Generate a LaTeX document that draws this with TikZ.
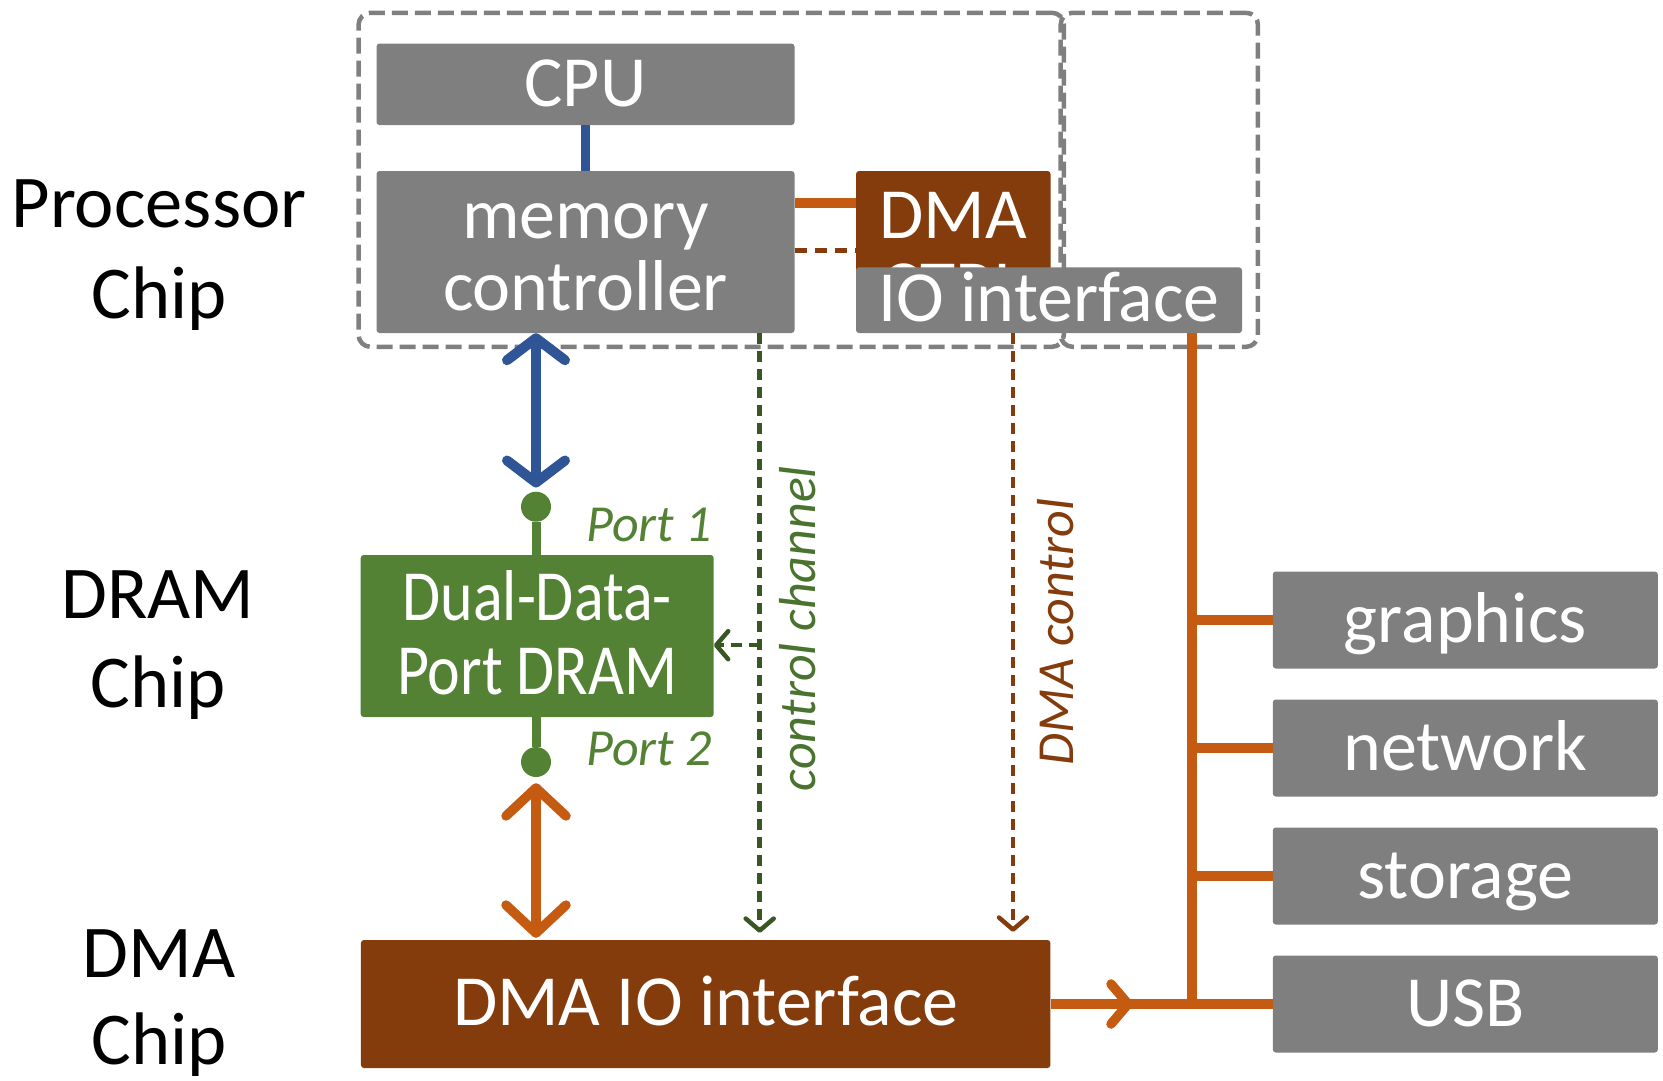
\documentclass[tikz,border=0pt]{standalone}
\usepackage{fontspec}
\setmainfont{Carlito}
\newfontfamily\narrowfont[FakeStretch=0.86]{Carlito}
\usetikzlibrary{arrows.meta,calc,decorations.markings}

\definecolor{boxgray}{HTML}{7F7F7F}
\definecolor{dmabrown}{HTML}{843C0C}
\definecolor{busorange}{HTML}{C55A11}
\definecolor{membus}{HTML}{2F5597}
\definecolor{dramgreen}{HTML}{548235}
\definecolor{ctrlgreen}{HTML}{385723}
\definecolor{ctrltext}{HTML}{4A7330}

\begin{document}
\begin{tikzpicture}[x=1pt,y=-1pt,
  sized/.style 2 args={minimum width=#1pt, minimum height=#2pt},
  block/.style={draw=none, rounded corners=3pt, inner sep=0pt},
  graybox/.style={block, fill=boxgray},
  brownbox/.style={block, fill=dmabrown},
  greenbox/.style={block, fill=dramgreen},
  chipframe/.style={draw=boxgray, line width=4.5pt, dash pattern=on 16pt off 7pt,
    rounded corners=12pt, inner sep=0pt},
  boxtext/.style={text=white, inner sep=0pt, anchor=base,
    font=\fontsize{72}{72}\selectfont},
  chiplabel/.style={inner sep=0pt, anchor=base, font=\fontsize{74.5}{74.5}\selectfont},
  portdot/.style={circle, fill=dramgreen, minimum size=30pt, inner sep=0pt},
  portlabel/.style={anchor=base west, inner sep=0pt, text=dramgreen,
    font=\itshape\fontsize{52}{52}\selectfont},
  ctrllabel/.style={rotate=90, anchor=base, inner sep=0pt,
    font=\itshape\fontsize{52}{52}\selectfont},
  membusline/.style={draw=membus, line width=10pt},
  orangebus/.style={draw=busorange, line width=9.5pt},
  browndash/.style={draw=dmabrown, line width=5pt, dash pattern=on 12pt off 8pt},
  ctrldash/.style={draw=ctrlgreen, line width=4.5pt, dash pattern=on 11pt off 7pt},
  dmadash/.style={draw=dmabrown, line width=4.5pt, dash pattern=on 11pt off 7pt},
]
\useasboundingbox (0,0) rectangle (1663,1080);

% processor chip outline (two dashed regions)
\node[chipframe, sized={705.3}{334.1}] (procframe) at (711.2,179.8) {};
\node[chipframe, sized={197.3}{334.1}] (ioframe) at (1159.3,179.8) {};

% processor chip blocks
\node[graybox, sized={418}{81.5}] (cpu) at (585.5,84.3) {};
\node[boxtext] (cpu-t) at (585.5,106.3) {CPU};
\node[graybox, sized={418}{162}] (mc) at (585.5,252) {};
\node[boxtext] (mc-t1) at (585.5,238.6) {memory};
\node[boxtext] (mc-t2) at (585.5,310.7) {controller};
\node[brownbox, sized={194.5}{129}] (dmactrl) at (953.3,235.5) {};
\node[boxtext] (dmactrl-t1) at (953.3,238.6) {DMA};
\node[boxtext] (dmactrl-t2) at (953.3,310.6) {CTRL};
\node[graybox, sized={386}{65.7}] (io) at (1049,300.2) {};
\node[boxtext] (io-t) at (1049,321.4) {IO interface};

% DRAM chip
\node[greenbox, sized={353}{162}] (dram) at (537.2,636) {};
\node[boxtext, font=\narrowfont\fontsize{72}{72}\selectfont] (dram-t1) at (537.2,620.5) {Dual-Data-};
\node[boxtext, font=\narrowfont\fontsize{72}{72}\selectfont] (dram-t2) at (537.2,694.7) {Port DRAM};
\node[portdot] (p1) at (536,506.7) {};
\node[portdot] (p2) at (536,762) {};
\draw[dramgreen, line width=9pt] (p1) -- (p1 |- dram.north);
\draw[dramgreen, line width=9pt] (p2) -- (p2 |- dram.south);
\node[portlabel] (p1-t) at (586,541.7) {Port 1};
\node[portlabel] (p2-t) at (586,765) {Port 2};

% DMA chip
\node[brownbox, sized={689.5}{128}] (dmaio) at (705.7,1004) {};
\node[boxtext] (dmaio-t) at (705.7,1025.5) {DMA IO interface};

% IO devices
\foreach \name/\label/\y in {graphics/graphics/620, network/network/748,
                             storage/storage/876, usb/USB/1004} {
  \node[graybox, sized={385}{97}] (\name) at (1465.3,\y) {};
  \node[boxtext] (\name-t) at (1465.3,\y+22) {\label};
}

% chip labels
\node[chiplabel] (proc-l1) at (159,227) {Processor};
\node[chiplabel] (proc-l2) at (159,318.5) {Chip};
\node[chiplabel] (dram-l1) at (158,618.6) {DRAM};
\node[chiplabel] (dram-l2) at (158,707) {Chip};
\node[chiplabel] (dma-l1) at (159,977.5) {DMA};
\node[chiplabel] (dma-l2) at (159,1064) {Chip};

% CPU to memory controller
\draw[membusline, line width=9pt] (cpu.south) -- (mc.north);

% memory controller to DMA controller
\path (mc.east) ++(0,-49) coordinate (dmaA);
\draw[orangebus] (dmaA) -- (dmaA -| dmactrl.west);
\path (mc.east) ++(0,-2) coordinate (dmaB);
\draw[browndash] (dmaB) -- (dmaB -| dmactrl.west);

% port 1: memory channel
\draw[membusline, {Straight Barb[length=22pt,width=58pt,round]}-{Straight Barb[length=22pt,width=58pt,round]},
      shorten >=4pt] (p1 |- mc.south) -- (p1.north);
% port 2: DMA channel
\draw[orangebus, {Straight Barb[length=28pt,width=60pt,round]}-{Straight Barb[length=28pt,width=60pt,round]},
      shorten <=6pt, shorten >=2pt] (p2.south) -- (p2 |- dmaio.north);

% control channel
\path (mc.south) ++(174.2,0) coordinate (ccTop);
\draw[ctrldash, -{Straight Barb[length=12pt,width=28pt,round]}, shorten >=7pt]
  (ccTop) -- (ccTop |- dmaio.north);
\path (ccTop) ++(0,312) coordinate (ccMid);
\draw[ctrldash, -{Straight Barb[length=12pt,width=28pt,round]}] (ccMid) -- (ccMid -| dram.east);
\node[ctrllabel, text=ctrltext] (cc-t) at (815,628.6) {control channel};

% DMA control
\path (io.south) ++(-36,0) coordinate (dcTop);
\draw[dmadash, -{Straight Barb[length=12pt,width=28pt,round]}, shorten >=8pt]
  (dcTop) -- (dcTop |- dmaio.north);
\node[ctrllabel, text=dmabrown] (dc-t) at (1073,632) {DMA control};

% IO bus
\path (io.south) ++(143,0) coordinate (busTop);
\draw[orangebus] (busTop) -- (busTop |- usb.west);
\foreach \dev in {graphics,network,storage}
  \draw[orangebus] (busTop |- \dev.west) -- (\dev.west);
\draw[orangebus, postaction={decorate}, decoration={markings,
      mark=at position 0.37 with {\arrow{Straight Barb[length=17pt,width=40pt,round]}}}]
  (dmaio.east |- usb.west) -- (usb.west);
\end{tikzpicture}
\end{document}
